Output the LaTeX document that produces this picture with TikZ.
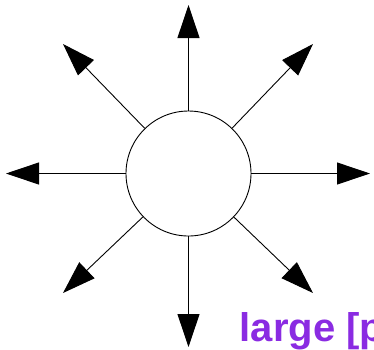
\documentclass[tikz,border=0pt]{standalone}
\usepackage{fontspec}
\setmainfont{Liberation Sans}
\usetikzlibrary{arrows.meta}
\definecolor{lblpurple}{RGB}{138,43,226}
\tikzset{
  ray/.style={line width=0.9pt,-{Triangle[length=33pt,width=22pt]}},
  hub/.style={circle,draw,line width=0.9pt,minimum size=125pt,inner sep=0pt},
  lbl/.style={text=lblpurple,font=\fontsize{40}{48}\selectfont\bfseries,inner sep=0pt,anchor=base west}
}
\begin{document}
\begin{tikzpicture}[x=1pt,y=-1pt]
\clip (0,0) rectangle (374,349);
\fill[white] (0,0) rectangle (374,349);
\node[hub] (c) at (188.5,173.5) {};
\coordinate (n) at (188.5,5);
\coordinate (s) at (188.5,347);
\coordinate (w) at (6,173.5);
\coordinate (e) at (370,173.5);
\coordinate (nw) at (63,44);
\coordinate (ne) at (313,44);
\coordinate (sw) at (63,293);
\coordinate (se) at (313,293);
\foreach \t in {n,s,w,e,nw,ne,sw,se} \draw[ray] (c) -- (\t);
\node[lbl] (t) at (239.5,341.5) {large [p};
\end{tikzpicture}
\end{document}
